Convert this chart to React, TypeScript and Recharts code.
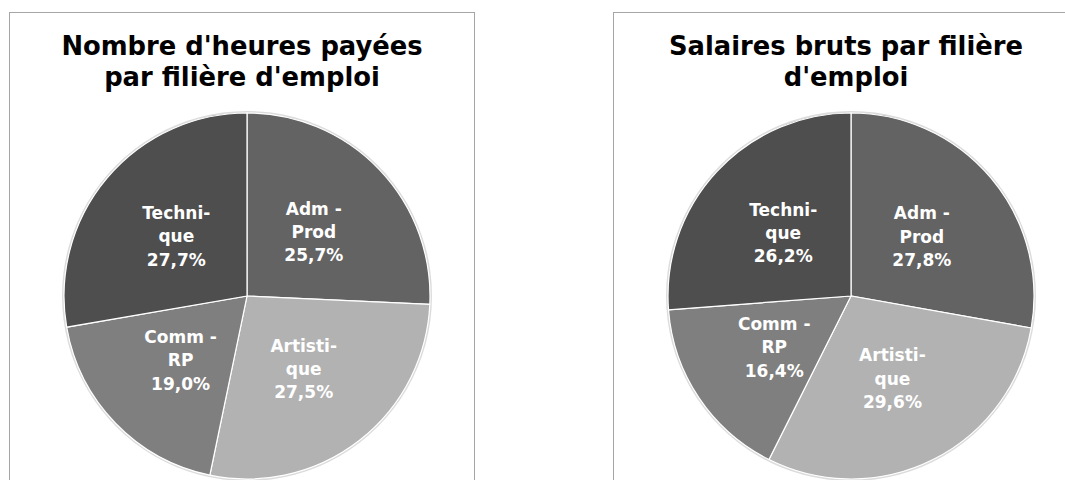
import { PieChart, Pie, Cell } from "recharts";

const categories = ["Adm - Prod", "Artistique", "Comm - RP", "Technique"];
const labelLines = [
  ["Adm -", "Prod"],
  ["Artisti-", "que"],
  ["Comm -", "RP"],
  ["Techni-", "que"],
];
const heuresValues = [25.7, 27.5, 19.0, 27.7];
const salairesValues = [27.8, 29.6, 16.4, 26.2];
const sliceColors = ["#636363", "#b2b2b2", "#7f7f7f", "#4e4e4e"];

const FONT = "'DejaVu Sans', Verdana, sans-serif";
const RAD = Math.PI / 180;

const fmt = (v: number) => v.toFixed(1).replace(".", ",") + "%";

function SliceLabel(props: any) {
  const { cx, cy, midAngle, outerRadius, index, value } = props;
  const r = outerRadius * 0.505;
  const x = cx + r * Math.cos(-midAngle * RAD);
  const y = cy + r * Math.sin(-midAngle * RAD);
  const lines = [...labelLines[index], fmt(value)];
  return (
    <text
      x={x}
      y={y}
      fill="#ffffff"
      textAnchor="middle"
      dominantBaseline="central"
      fontFamily={FONT}
      fontWeight="bold"
      fontSize={17}
    >
      {lines.map((t, i) => (
        <tspan key={i} x={x} y={y + (i - 1) * 23.3}>
          {t}
        </tspan>
      ))}
    </text>
  );
}

function PieBox({ title, values, left }: { title: string[]; values: number[]; left: number }) {
  const data = categories.map((name, i) => ({ name, value: values[i] }));
  return (
    <div
      style={{
        position: "absolute",
        left,
        top: 12,
        width: 466,
        height: 480,
        border: "1px solid #a6a6a6",
        boxSizing: "border-box",
        background: "#fff",
      }}
    >
      <div
        style={{
          position: "absolute",
          left: 0,
          top: 18,
          width: "100%",
          textAlign: "center",
          fontFamily: FONT,
          fontWeight: "bold",
          fontSize: 25.8,
          lineHeight: "31px",
          color: "#000",
        }}
      >
        {title.map((t, i) => (
          <div key={i}>{t}</div>
        ))}
      </div>
      <div style={{ position: "absolute", left: 0, top: 0 }}>
        <PieChart width={464} height={478}>
          <Pie
            data={[{ name: "edge", value: 1 }]}
            dataKey="value"
            cx={232}
            cy={278}
            outerRadius={185}
            startAngle={90}
            endAngle={-270}
            fill="#dcdcdc"
            stroke="none"
            isAnimationActive={false}
          />
          <Pie
            data={data}
            dataKey="value"
            cx={232}
            cy={278}
            outerRadius={183}
            startAngle={90}
            endAngle={-270}
            stroke="#ffffff"
            strokeWidth={1.2}
            labelLine={false}
            label={SliceLabel}
            isAnimationActive={false}
          >
            {data.map((d, i) => (
              <Cell key={d.name} fill={sliceColors[i]} />
            ))}
          </Pie>
        </PieChart>
      </div>
    </div>
  );
}

export default function App() {
  return (
    <div
      style={{
        position: "absolute",
        left: 0,
        top: 0,
        width: 1065,
        height: 480,
        overflow: "hidden",
        background: "#fff",
      }}
    >
      <PieBox
        left={9}
        title={["Nombre d'heures payées", "par filière d'emploi"]}
        values={heuresValues}
      />
      <PieBox
        left={613}
        title={["Salaires bruts par filière", "d'emploi"]}
        values={salairesValues}
      />
    </div>
  );
}
